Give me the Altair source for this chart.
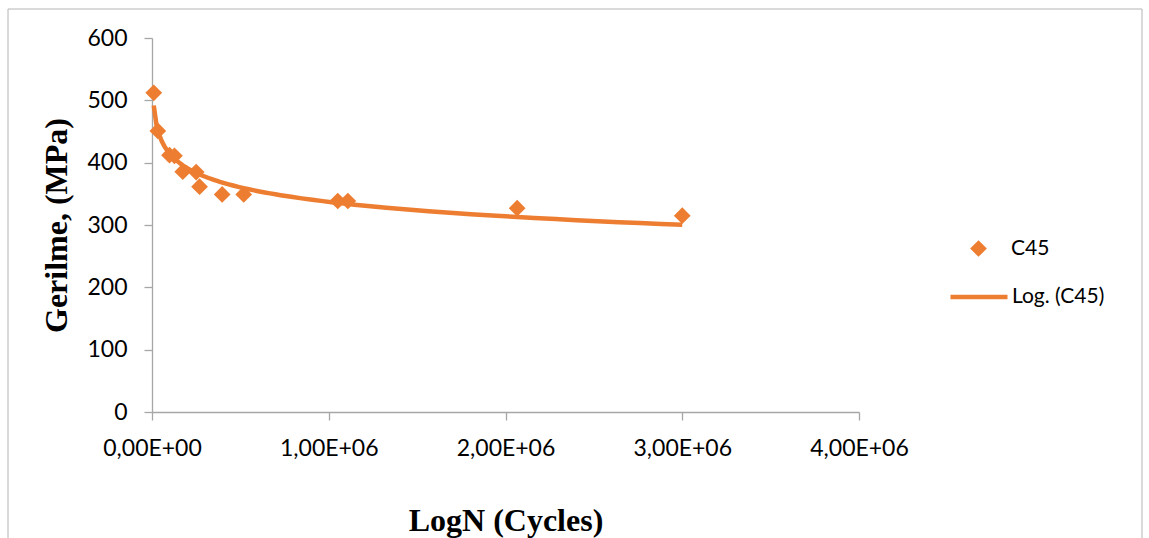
import altair as alt
import pandas as pd

# Data
cycles = [10000, 33000, 99000, 127000, 174000, 250000, 269000, 397000, 519000,
          1051000, 1108000, 2066000, 3000000]
stress = [512, 451, 412, 411, 385.5, 385, 361.5, 349, 349, 338.5, 338.5, 327, 315]
series_name = "C45"
trend_name = "Log. (C45)"

x_tick_values = [0, 1000000, 2000000, 3000000, 4000000]
x_tick_labels = ["0,00E+00", "1,00E+06", "2,00E+06", "3,00E+06", "4,00E+06"]
y_tick_values = [0, 100, 200, 300, 400, 500, 600]

ORANGE = "#ED7D31"
AXIS_GRAY = "#a6a6a6"
W, H = 707, 374

df = pd.DataFrame({"N": cycles, "S": stress, "series": [series_name] * len(cycles)})

label_expr = ("[" + ",".join(f"'{l}'" for l in x_tick_labels) + "][indexof(["
              + ",".join(str(v) for v in x_tick_values) + "], datum.value)]")

x_enc = alt.X("N:Q", scale=alt.Scale(domain=[0, 4000000], nice=False),
              axis=alt.Axis(values=x_tick_values, labelExpr=label_expr,
                            title="LogN (Cycles)", titleX=W / 2, titleY=108,
                            titleBaseline="middle", titleAlign="center"))
y_enc = alt.Y("S:Q", scale=alt.Scale(domain=[0, 600], nice=False),
              axis=alt.Axis(values=y_tick_values, title="Gerilme, (MPa)",
                            titleX=-96, titleY=H / 2, titleAngle=270,
                            titleBaseline="middle", titleAlign="center"))

border = alt.Chart(alt.Data(values=[{"a": 1}])).mark_rect(
    fillOpacity=0, stroke="#b4b4b4", strokeWidth=1
).encode(x=alt.value(-144), x2=alt.value(990), y=alt.value(-29), y2=alt.value(530))

base = alt.Chart(df)

points = base.mark_point(shape="diamond", filled=True, size=280, opacity=1).encode(
    x=x_enc, y=y_enc,
    color=alt.Color("series:N", scale=alt.Scale(domain=[series_name], range=[ORANGE]),
                    legend=alt.Legend(title=None, orient="none", legendX=816, legendY=200,
                                      symbolType="diamond", symbolSize=280,
                                      labelOffset=22, labelFontSize=21, labelFont="Lato",
                                      labelColor="#000000", padding=0))
)

trend = base.transform_regression("N", "S", method="log").transform_calculate(
    trend="'" + trend_name + "'"
).mark_line(strokeWidth=4.5).encode(
    x=alt.X("N:Q"), y=alt.Y("S:Q"),
    color=alt.Color("trend:N", scale=alt.Scale(domain=[trend_name], range=[ORANGE]),
                    legend=alt.Legend(title=None, orient="none", legendX=796, legendY=228,
                                      symbolType="stroke", symbolSize=3249,
                                      symbolStrokeWidth=4.5, labelOffset=2,
                                      labelFontSize=21, labelFont="Lato",
                                      labelColor="#000000", padding=0))
)

chart = alt.layer(border, points, trend).resolve_scale(color="independent").properties(
    width=W, height=H,
    autosize=alt.AutoSizeParams(type="none"),
    padding={"left": 152, "top": 38, "right": 1149 - 152 - W, "bottom": 538 - 38 - H},
).configure_view(stroke=None).configure_axis(
    domainColor=AXIS_GRAY, tickColor=AXIS_GRAY, tickSize=8, domainWidth=1.3, tickWidth=1.3,
    grid=False, labelFont="Lato", labelFontSize=23, labelColor="#000000", labelPadding=17,
    titleFont="Liberation Serif", titleFontWeight="bold", titleFontSize=32,
    titleColor="#000000"
).configure_axisY(labelBaseline="middle").configure_axisX(labelFlush=False)

chart.save("out.html", embed_options={"renderer": "svg", "actions": False})
